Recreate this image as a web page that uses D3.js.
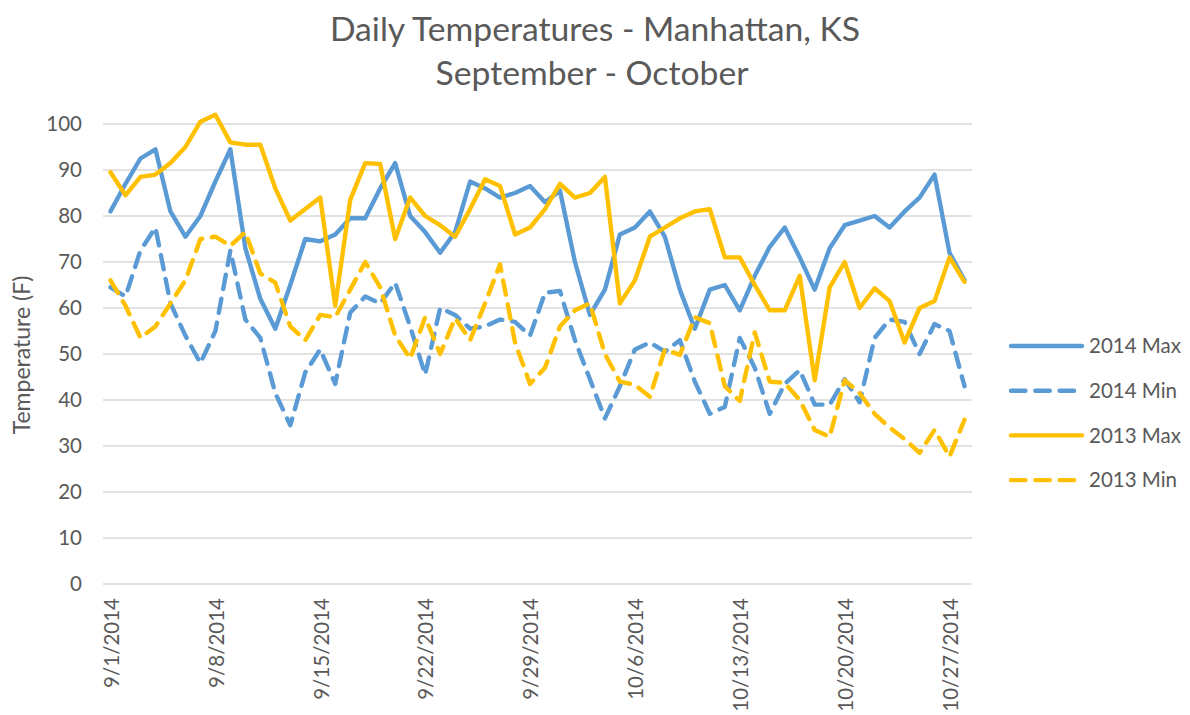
<!DOCTYPE html>
<html>
<head>
<meta charset="utf-8">
<script src="https://cdn.jsdelivr.net/npm/d3@7"></script>
<style>
  body { margin: 0; background: #fff; }
  svg { display: block; }
  text { font-family: Lato, "Open Sans", sans-serif; fill: #595959; }
</style>
</head>
<body>
<div class="chart"></div>
<script>
// categories: one point per day, 9/1/2014 .. 10/28/2014
const firstDay = new Date(2014, 8, 1);
const lastDay = new Date(2014, 9, 28);
const days = d3.timeDay.range(firstDay, d3.timeDay.offset(lastDay, 1));

const tickDays = ["9/1/2014", "9/8/2014", "9/15/2014", "9/22/2014", "9/29/2014",
  "10/6/2014", "10/13/2014", "10/20/2014", "10/27/2014"];
const yTicks = [0, 10, 20, 30, 40, 50, 60, 70, 80, 90, 100];

const max2014 = [81, 87, 92.5, 94.5, 81, 75.5, 80, 87.5, 94.5, 73, 62, 55.5, 65, 75, 74.5,
  76, 79.5, 79.5, 86, 91.5, 80, 76.5, 72, 76.5, 87.5, 86, 84, 85, 86.5, 83,
  85.5, 70, 58.5, 64, 76, 77.5, 81, 75.5, 64, 55.5, 64, 65, 59.5, 67, 73.3,
  77.5, 71, 64, 73, 78, 79, 80, 77.5, 81, 84, 89, 72, 66];
const min2014 = [64.5, 62.5, 72.5, 77.5, 61, 54, 48, 55, 72.5, 57.5, 53.5, 41.5, 34.5, 46, 51,
  43.5, 59, 62.5, 61, 65.5, 56, 45.5, 60, 58.5, 55.5, 56, 57.5, 57, 54, 63.3,
  63.7, 53, 44.5, 36, 43, 51, 52.5, 50.5, 53, 44, 37, 38.5, 53.5, 47, 37,
  43.5, 46.5, 39, 39, 44.5, 39.5, 53.5, 57.5, 57, 50, 56.5, 55, 43];
const max2013 = [89.5, 84.5, 88.5, 89, 91.5, 95, 100.5, 102, 96, 95.5, 95.5, 86, 79, 81.5, 84,
  60.5, 83.5, 91.5, 91.3, 75, 84, 80, 78, 75.5, 81.5, 88, 86.5, 76, 77.5, 81.5,
  87, 84, 85, 88.5, 61, 66, 75.5, 77.5, 79.5, 81, 81.5, 71, 71, 65, 59.5,
  59.5, 67, 44.3, 64.5, 70, 60, 64.3, 61.5, 52.5, 60, 61.5, 71, 65.7];
const min2013 = [66, 60.5, 53.5, 56, 61, 66, 75, 75.5, 73.5, 76.5, 67.5, 65.5, 56, 53, 58.5,
  58, 64, 70, 64.5, 54, 49, 58, 50, 57.8, 53, 61, 69.5, 52.5, 43.5, 47,
  56, 59.5, 61, 50, 44, 43.3, 40.7, 51, 49.8, 58, 56.7, 43, 39.8, 54.7, 44,
  43.7, 40, 33.5, 32, 44.3, 41.5, 37, 34, 31.5, 28.5, 33.5, 27.7, 35.7];

const seriesNames = ["2014 Max", "2014 Min", "2013 Max", "2013 Min"];

const width = 1190, height = 715;
const plot = { left: 103, right: 972, top: 124, bottom: 584 };
const blue = "#5b9bd5", gold = "#ffc000";

const series = [
  { name: seriesNames[0], values: max2014, color: blue, dash: null },
  { name: seriesNames[1], values: min2014, color: blue, dash: "14.5,9.8" },
  { name: seriesNames[2], values: max2013, color: gold, dash: null },
  { name: seriesNames[3], values: min2013, color: gold, dash: "14.5,9.8" }
];

const svg = d3.select(".chart").append("svg")
  .attr("width", width)
  .attr("height", height);

// date axis with half a day of padding on both ends
const x = d3.scaleTime()
  .domain([d3.timeHour.offset(firstDay, -12), d3.timeHour.offset(lastDay, 12)])
  .range([plot.left, plot.right]);
const y = d3.scaleLinear().domain([0, 100]).range([plot.bottom, plot.top]);

// gridlines
svg.append("g")
  .selectAll("line")
  .data(yTicks)
  .join("line")
  .attr("x1", plot.left)
  .attr("x2", plot.right)
  .attr("y1", d => y(d))
  .attr("y2", d => y(d))
  .attr("stroke", "#d9d9d9")
  .attr("stroke-width", 1.6);

// y axis labels
const yAxis = svg.append("g")
  .attr("transform", `translate(${plot.left - 21},0)`)
  .call(d3.axisLeft(y).tickValues(yTicks).tickSize(0).tickPadding(0));
yAxis.select(".domain").remove();
yAxis.selectAll("text")
  .attr("font-size", 20.5)
  .attr("font-family", "Lato, sans-serif")
  .attr("fill", "#595959");

// x axis labels, rotated
const parseDay = d3.timeParse("%-m/%-d/%Y");
const xAxis = svg.append("g")
  .attr("transform", `translate(0,${plot.bottom})`)
  .call(d3.axisBottom(x)
    .tickValues(tickDays.map(parseDay))
    .tickFormat(d3.timeFormat("%-m/%-d/%Y"))
    .tickSize(0));
xAxis.select(".domain").remove();
xAxis.selectAll("text")
  .attr("font-size", 20.5)
  .attr("font-family", "Lato, sans-serif")
  .attr("fill", "#595959")
  .attr("text-anchor", "end")
  .attr("transform", "rotate(-90)")
  .attr("x", -14)
  .attr("y", 0)
  .attr("dy", "0.38em");

// series lines
const line = d3.line()
  .x((d, i) => x(days[i]))
  .y(d => y(d));

svg.append("g")
  .selectAll("path")
  .data(series)
  .join("path")
  .attr("d", d => line(d.values))
  .attr("fill", "none")
  .attr("stroke", d => d.color)
  .attr("stroke-width", 4.4)
  .attr("stroke-linejoin", "round")
  .attr("stroke-linecap", "round")
  .attr("stroke-dasharray", d => d.dash);

// titles
const title = svg.append("g").attr("font-size", 33.7);
title.append("text").attr("x", 595).attr("y", 41).attr("text-anchor", "middle")
  .text("Daily Temperatures - Manhattan, KS");
title.append("text").attr("x", 592).attr("y", 85).attr("text-anchor", "middle")
  .text("September - October");

svg.append("text")
  .attr("transform", "translate(30,355) rotate(-90)")
  .attr("text-anchor", "middle")
  .attr("font-size", 23)
  .text("Temperature (F)");

// legend
const legend = svg.append("g")
  .selectAll("g")
  .data(series)
  .join("g")
  .attr("transform", (d, i) => `translate(1011,${346 + i * 44.7})`);
legend.append("line")
  .attr("x1", 0).attr("x2", 71)
  .attr("stroke", d => d.color)
  .attr("stroke-width", 4.4)
  .attr("stroke-linecap", "round")
  .attr("stroke-dasharray", d => d.dash);
legend.append("text")
  .attr("x", 78)
  .attr("dy", "0.36em")
  .attr("font-size", 20.5)
  .text(d => d.name);
</script>
</body>
</html>
